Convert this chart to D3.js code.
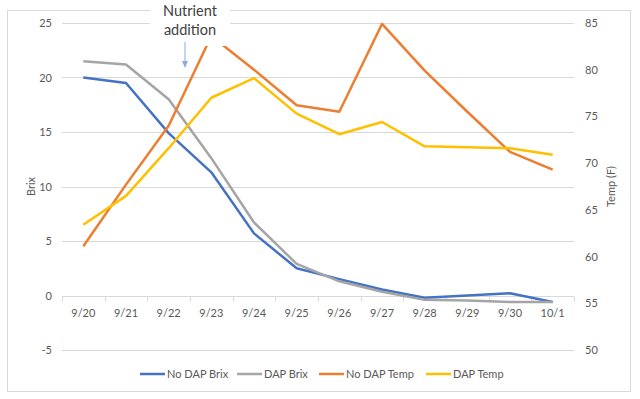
<!DOCTYPE html>
<html>
<head>
<meta charset="utf-8">
<script src="https://cdnjs.cloudflare.com/ajax/libs/d3/7.8.5/d3.min.js"></script>
<style>
  body { margin: 0; background: #fff; }
  svg text { font-family: Lato, "Liberation Sans", sans-serif; }
</style>
</head>
<body>
<svg id="chart" width="640" height="399"></svg>
<script>
// chart data
var dates = ["9/20", "9/21", "9/22", "9/23", "9/24", "9/25", "9/26", "9/27", "9/28", "9/29", "9/30", "10/1"];
var noDapBrix = [20.0, 19.5, 14.9, 11.3, 5.7, 2.5, 1.5, 0.55, -0.2, 0.0, 0.2, -0.6];
var dapBrix = [21.5, 21.2, 18.0, 12.6, 6.7, 2.9, 1.3, 0.35, -0.4, -0.45, -0.6, -0.6];
var noDapTemp = [61.1, 67.7, 74.0, 83.6, 80.0, 76.2, 75.5, 84.9, 79.9, 75.5, 71.2, 69.3];
var dapTemp = [63.4, 66.5, 71.6, 77.0, 79.1, 75.3, 73.1, 74.4, 71.8, 71.7, 71.6, 70.9];
var brixTicks = [-5, 0, 5, 10, 15, 20, 25];
var tempTicks = [50, 55, 60, 65, 70, 75, 80, 85];
var seriesNames = ["No DAP Brix", "DAP Brix", "No DAP Temp", "DAP Temp"];

(function(d3) {

    var svg = d3.select("#chart");
    var plot = { left: 62, right: 574, top: 23, bottom: 350 };

    // chart frame
    svg.append("rect")
        .attr("x", 7.5).attr("y", 10.5)
        .attr("width", 623).attr("height", 381)
        .attr("fill", "#fff")
        .attr("stroke", "#d9d9d9");

    var x = d3.scaleBand().domain(dates).range([plot.left, plot.right]);
    var yBrix = d3.scaleLinear().domain([-5, 25]).range([plot.bottom, plot.top]);
    var yTemp = d3.scaleLinear().domain([50, 85]).range([plot.bottom, plot.top]);

    // gridlines from the Brix axis
    svg.append("g").selectAll("line")
        .data(brixTicks)
        .enter()
        .append("line")
        .attr("x1", plot.left).attr("x2", plot.right)
        .attr("y1", function(d) { return Math.round(yBrix(d)) + 0.5; })
        .attr("y2", function(d) { return Math.round(yBrix(d)) + 0.5; })
        .attr("stroke", "#d9d9d9");

    // left axis labels
    svg.append("g").selectAll("text")
        .data(brixTicks)
        .enter()
        .append("text")
        .attr("x", 52)
        .attr("y", function(d) { return yBrix(d) + 4; })
        .attr("text-anchor", "end")
        .attr("font-size", 11)
        .attr("fill", "#595959")
        .text(function(d) { return d; });

    // right axis labels
    svg.append("g").selectAll("text")
        .data(tempTicks)
        .enter()
        .append("text")
        .attr("x", 585)
        .attr("y", function(d) { return yTemp(d) + 4; })
        .attr("font-size", 11)
        .attr("fill", "#595959")
        .text(function(d) { return d; });

    // category axis sitting on Brix 0
    var y0 = Math.round(yBrix(0)) + 0.5;
    var catAxis = svg.append("g").attr("transform", "translate(0," + y0 + ")");
    catAxis.append("line")
        .attr("x1", plot.left).attr("x2", plot.right)
        .attr("stroke", "#d9d9d9");
    catAxis.selectAll("line.tick")
        .data(dates.concat(["end"]))
        .enter()
        .append("line")
        .attr("class", "tick")
        .attr("x1", function(d, i) { return Math.round(plot.left + i * x.bandwidth()) + 0.5; })
        .attr("x2", function(d, i) { return Math.round(plot.left + i * x.bandwidth()) + 0.5; })
        .attr("y1", 0).attr("y2", 5)
        .attr("stroke", "#d9d9d9");
    catAxis.selectAll("text")
        .data(dates)
        .enter()
        .append("text")
        .attr("x", function(d) { return x(d) + x.bandwidth() / 2; })
        .attr("y", 20)
        .attr("text-anchor", "middle")
        .attr("font-size", 11)
        .attr("fill", "#595959")
        .text(function(d) { return d; });

    // axis titles
    svg.append("text")
        .attr("transform", "translate(35," + (plot.top + plot.bottom) / 2 + ") rotate(-90)")
        .attr("text-anchor", "middle")
        .attr("font-size", 11)
        .attr("fill", "#595959")
        .text("Brix");
    svg.append("text")
        .attr("transform", "translate(615," + (plot.top + plot.bottom) / 2 + ") rotate(-90)")
        .attr("text-anchor", "middle")
        .attr("font-size", 11)
        .attr("fill", "#595959")
        .text("Temp (F)");

    var series = [
        { name: seriesNames[0], values: noDapBrix, scale: yBrix, color: "#4472c4" },
        { name: seriesNames[1], values: dapBrix, scale: yBrix, color: "#a5a5a5" },
        { name: seriesNames[2], values: noDapTemp, scale: yTemp, color: "#ed7d31" },
        { name: seriesNames[3], values: dapTemp, scale: yTemp, color: "#ffc000" }
    ];

    series.forEach(function(s) {
        var line = d3.line()
            .x(function(d, i) { return x(dates[i]) + x.bandwidth() / 2; })
            .y(function(d) { return s.scale(d); });
        svg.append("path")
            .datum(s.values)
            .attr("d", line)
            .attr("fill", "none")
            .attr("stroke", s.color)
            .attr("stroke-width", 2.5)
            .attr("stroke-linejoin", "round");
    });

    // "Nutrient addition" callout, white box hides what is behind it
    var note = svg.append("g");
    note.append("rect")
        .attr("x", 150).attr("y", 0)
        .attr("width", 80).attr("height", 46)
        .attr("fill", "#fff");
    note.selectAll("text")
        .data(["Nutrient", "addition"])
        .enter()
        .append("text")
        .attr("x", 190)
        .attr("y", function(d, i) { return 16 + i * 19; })
        .attr("text-anchor", "middle")
        .attr("font-size", 14.5)
        .attr("fill", "#404040")
        .text(function(d) { return d; });
    note.append("line")
        .attr("x1", 185).attr("x2", 185)
        .attr("y1", 42).attr("y2", 62)
        .attr("stroke", "#8faadc")
        .attr("stroke-width", 1);
    note.append("path")
        .attr("d", "M182,61 L188,61 L185,68 Z")
        .attr("fill", "#8faadc");

    // legend
    var legendX = [140, 237, 319, 426];
    var legend = svg.append("g").selectAll("g")
        .data(series)
        .enter()
        .append("g")
        .attr("transform", function(d, i) { return "translate(" + legendX[i] + ",374)"; });
    legend.append("line")
        .attr("x1", 0).attr("x2", 25)
        .attr("stroke", function(d) { return d.color; })
        .attr("stroke-width", 2.5);
    legend.append("text")
        .attr("x", 27).attr("y", 4)
        .attr("font-size", 11)
        .attr("fill", "#595959")
        .text(function(d) { return d.name; });

})(d3);
</script>
</body>
</html>
